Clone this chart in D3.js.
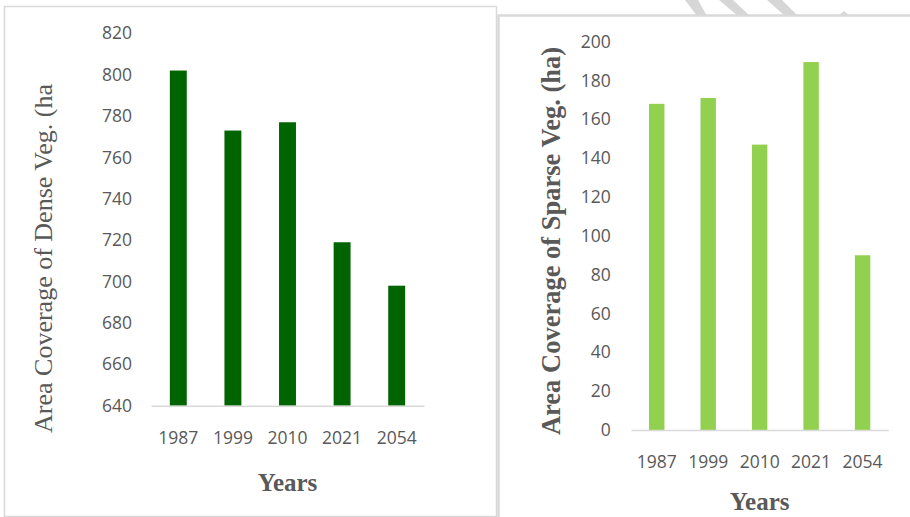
<!DOCTYPE html>
<html>
<head>
<meta charset="utf-8">
<script src="https://cdn.jsdelivr.net/npm/d3@7"></script>
<style>
  body { margin: 0; background: #fff; }
  svg { display: block; }
</style>
</head>
<body>
<svg></svg>
<script>
var width = 910;
var height = 517;

// data
var years = ['1987', '1999', '2010', '2021', '2054'];
var denseVeg = [802, 773, 777, 719, 698];
var sparseVeg = [168, 171, 147, 189.5, 90];
var denseTicks = [640, 660, 680, 700, 720, 740, 760, 780, 800, 820];
var sparseTicks = [0, 20, 40, 60, 80, 100, 120, 140, 160, 180, 200];

var tickFont = '"Open Sans", sans-serif';
var titleFont = '"Liberation Serif", "Times New Roman", serif';
var grey = '#595959';

var svg = d3.select('svg')
      .attr('width', width)
      .attr('height', height);

// decorative hatch stripes poking in at the top
var stripes = [
  [[685, 0], [698, 0], [707, 16], [697, 16]],
  [[719, 0], [733, 0], [750, 16], [738, 16]],
  [[767, 0], [782, 0], [798, 16], [785, 16]],
  [[838, 16], [844, 11], [850, 16]]
];
svg.selectAll('polygon.stripe')
  .data(stripes)
  .enter()
  .append('polygon')
    .attr('class', 'stripe')
    .attr('points', d => d.map(p => p.join(',')).join(' '))
    .attr('fill', '#d6d6d6');

// panel frames
svg.append('rect')
  .attr('x', 4.5).attr('y', 6.5)
  .attr('width', 492).attr('height', 510)
  .attr('fill', '#fff')
  .attr('stroke', '#d9d9d9')
  .attr('stroke-width', 1.5);

svg.append('rect')
  .attr('x', 498.5).attr('y', 15.5)
  .attr('width', 420).attr('height', 520)
  .attr('fill', '#fff')
  .attr('stroke', '#d9d9d9')
  .attr('stroke-width', 2.5);

function drawChart(opts) {
  var xScale = d3.scaleBand()
        .domain(years)
        .range(opts.xRange)
        .paddingInner(opts.pad)
        .paddingOuter(opts.pad / 2);

  var yScale = d3.scaleLinear()
        .domain(d3.extent(opts.ticks))
        .range(opts.yRange);

  var g = svg.append('g');

  // bars
  g.selectAll('rect.bar')
    .data(opts.values)
    .enter()
    .append('rect')
      .attr('class', 'bar')
      .attr('x', (d, i) => xScale(years[i]))
      .attr('y', d => yScale(d))
      .attr('width', xScale.bandwidth())
      .attr('height', d => yScale(opts.ticks[0]) - yScale(d))
      .attr('fill', opts.color);

  // y axis labels only
  var yAxis = d3.axisLeft(yScale)
        .tickValues(opts.ticks)
        .tickSize(0)
        .tickPadding(opts.yPad);

  g.append('g')
    .attr('transform', `translate(${opts.xRange[0]}, 0)`)
    .call(yAxis)
    .call(a => a.select('.domain').remove())
    .selectAll('text')
      .attr('font-family', tickFont)
      .attr('font-size', 17.5)
      .attr('fill', grey);

  // x axis
  var xAxis = d3.axisBottom(xScale)
        .tickSize(0)
        .tickSizeOuter(0);

  var base = yScale(opts.ticks[0]);
  var xg = g.append('g')
    .attr('transform', `translate(0, ${base})`)
    .call(xAxis);
  xg.select('.domain')
    .attr('stroke', '#d9d9d9')
    .attr('stroke-width', 1.5);
  xg.selectAll('text')
    .attr('y', opts.xLabelOffset)
    .attr('dy', '0.35em')
    .attr('font-family', tickFont)
    .attr('font-size', 17.5)
    .attr('fill', grey);

  // x-axis title
  g.append('text')
    .attr('x', (opts.xRange[0] + opts.xRange[1]) / 2)
    .attr('y', opts.xTitleY)
    .style('text-anchor', 'middle')
    .attr('font-family', titleFont)
    .attr('font-weight', 'bold')
    .attr('font-size', 25)
    .attr('fill', grey)
    .text('Years');

  // y-axis title
  g.append('text')
    .attr('transform', `translate(${opts.yTitleX}, ${opts.yTitleY}) rotate(-90)`)
    .style('text-anchor', 'middle')
    .attr('font-family', titleFont)
    .attr('font-weight', opts.yTitleBold ? 'bold' : 'normal')
    .attr('font-size', opts.yTitleSize)
    .attr('fill', grey)
    .text(opts.yTitle);
}

drawChart({
  values: denseVeg,
  ticks: denseTicks,
  color: '#006400',
  xRange: [151, 424],
  yRange: [405.7, 33.3],
  pad: 0.69,
  yPad: 19,
  xLabelOffset: 32.6,
  xTitleY: 491,
  yTitle: 'Area Coverage of Dense Veg. (ha',
  yTitleX: 52,
  yTitleY: 258.5,
  yTitleSize: 26,
  yTitleBold: false
});

drawChart({
  values: sparseVeg,
  ticks: sparseTicks,
  color: '#92d050',
  xRange: [631, 888.3],
  yRange: [430, 41.7],
  pad: 0.70,
  yPad: 20.3,
  xLabelOffset: 31.7,
  xTitleY: 510,
  yTitle: 'Area Coverage of Sparse Veg. (ha)',
  yTitleX: 560,
  yTitleY: 241,
  yTitleSize: 26.5,
  yTitleBold: true
});
</script>
</body>
</html>
